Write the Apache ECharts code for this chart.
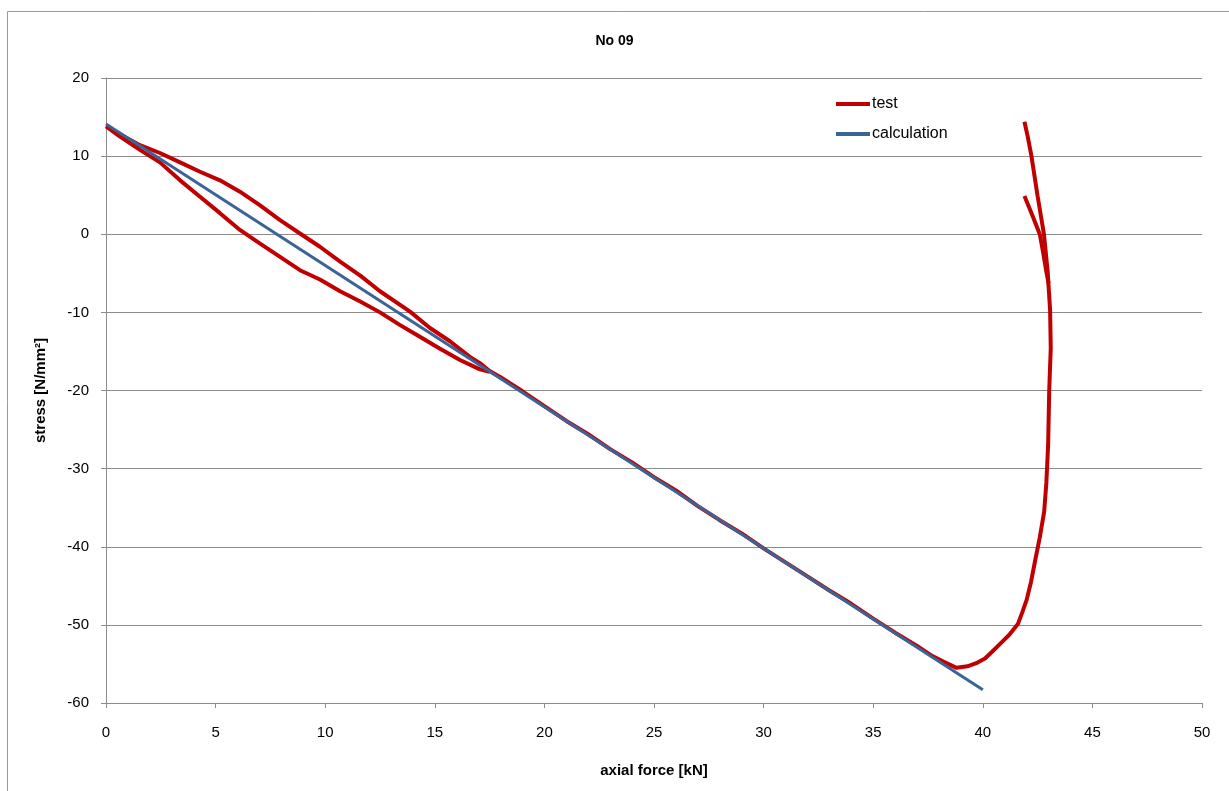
<!DOCTYPE html>
<html>
<head>
<meta charset="utf-8">
<script src="https://cdn.jsdelivr.net/npm/echarts@6/dist/echarts.min.js"></script>
<style>
  html, body { margin: 0; padding: 0; background: #fff; }
  #main { width: 1229px; height: 791px; }
</style>
</head>
<body>
<div id="main"></div>
<script>
// test curve, [axial force kN, stress N/mm2]
var loopUpper = [[0,13.8],[0.64,12.8],[1.55,11.4],[2.46,10.4],[3.38,9.2],[4.29,8.0],[5.2,6.9],[6.11,5.45],[7.03,3.7],[7.94,1.8],[8.85,0.1],[9.76,-1.6],[10.68,-3.5],[11.6,-5.3],[12.5,-7.3],[13.87,-9.9],[14.78,-12.0],[15.69,-13.7],[16.6,-15.7],[17.06,-16.5],[17.5,-17.5]];
var loopLower = [[0,13.8],[0.64,12.5],[1.55,10.8],[2.46,9.2],[3.38,6.9],[4.29,4.8],[5.2,2.7],[6.11,0.55],[7.03,-1.2],[7.94,-2.9],[8.85,-4.6],[9.76,-5.8],[10.68,-7.3],[11.6,-8.6],[12.5,-10.0],[13.4,-11.6],[14.3,-13.1],[15.2,-14.6],[16.15,-16.1],[17.06,-17.3],[17.5,-17.6]];
var mainLine = [[18,-18.3],[19,-20.1],[20,-22.0],[21,-23.9],[22,-25.6],[23,-27.5],[24,-29.2],[25,-31.1],[26,-32.8],[27,-34.8],[28,-36.6],[29,-38.3],[30,-40.2],[31,-42.0],[32,-43.8],[33,-45.6],[34,-47.3],[35,-49.2],[36,-51.0],[37,-52.7],[37.7,-54.0],[38.2,-54.7],[38.8,-55.5]];
var curl = [[39.3,-55.3],[39.7,-54.9],[40.1,-54.3],[40.4,-53.5],[40.8,-52.4],[41.2,-51.3],[41.6,-49.9],[41.8,-48.4],[42.0,-46.8],[42.2,-44.5],[42.4,-41.6],[42.6,-38.8],[42.8,-35.5],[42.9,-31.8],[42.98,-27],[43.03,-20],[43.1,-14.6],[43.07,-9.7],[42.96,-4.8]];
var rightOuter = [[42.79,0],[42.5,4.9],[42.22,10],[42.05,12.5],[41.9,14.4]];
var rightInner = [[43.0,-6.3],[42.9,-4.8],[42.75,-2.3],[42.6,0],[42.25,2.5],[41.9,4.9]];
// calculation line
var calcLine = [[0,14.1],[40,-58.3]];

var xTicks = { min: 0, max: 50, interval: 5 };
var yTicks = { min: -60, max: 20, interval: 10 };

// one continuous path for the test curve
var testPath = []
  .concat(rightOuter.slice().reverse())
  .concat(curl.slice().reverse())
  .concat(mainLine.slice().reverse())
  .concat(loopUpper.slice().reverse())
  .concat(loopLower);

var font = 'Liberation Sans';
var chart = echarts.init(document.getElementById('main'));
chart.setOption({
  animation: false,
  textStyle: { fontFamily: font },
  title: {
    text: 'No 09', left: 'center', top: 29,
    textStyle: { fontSize: 14, fontWeight: 'bold', color: '#000', fontFamily: font }
  },
  graphic: [{
    type: 'rect', silent: true,
    shape: { x: 7.5, y: 11.5, width: 1300, height: 900 },
    style: { fill: 'none', stroke: '#9a9a9a', lineWidth: 1 }
  }],
  legend: {
    orient: 'vertical', left: 831, top: 91,
    icon: 'rect', itemWidth: 34, itemHeight: 4, itemGap: 14,
    data: ['test', 'calculation'],
    textStyle: { fontSize: 16, color: '#000', fontFamily: font, padding: [0, 0, 0, -3] }
  },
  grid: { left: 106, right: 27, top: 78, bottom: 88 },
  xAxis: {
    type: 'value', min: xTicks.min, max: xTicks.max, interval: xTicks.interval,
    name: 'axial force [kN]', nameLocation: 'middle', nameGap: 60,
    nameTextStyle: { fontSize: 15, fontWeight: 'bold', color: '#000' },
    axisLine: { onZero: false, lineStyle: { color: '#8c8c8c', width: 1 } },
    axisTick: { show: true, length: 5, lineStyle: { color: '#8c8c8c' } },
    axisLabel: { fontSize: 15, color: '#000', margin: 22 },
    splitLine: { show: false }
  },
  yAxis: {
    type: 'value', min: yTicks.min, max: yTicks.max, interval: yTicks.interval,
    name: 'stress [N/mm²]', nameLocation: 'middle', nameGap: 58,
    nameTextStyle: { fontSize: 15, fontWeight: 'bold', color: '#000' },
    axisLine: { show: true, lineStyle: { color: '#8c8c8c', width: 1 } },
    axisTick: { show: true, length: 5, lineStyle: { color: '#8c8c8c' } },
    axisLabel: { fontSize: 15, color: '#000', margin: 17 },
    splitLine: { show: true, lineStyle: { color: '#8c8c8c', width: 1 } }
  },
  series: [
    {
      name: 'test', type: 'line', data: testPath, symbol: 'none',
      lineStyle: { color: '#C00000', width: 4 }, itemStyle: { color: '#C00000' }, z: 2
    },
    {
      name: 'test', type: 'line', data: rightInner, symbol: 'none',
      lineStyle: { color: '#C00000', width: 4 }, itemStyle: { color: '#C00000' }, z: 2
    },
    {
      name: 'calculation', type: 'line', data: calcLine, symbol: 'none',
      lineStyle: { color: '#3A6497', width: 3 }, itemStyle: { color: '#3A6497' }, z: 3
    }
  ]
});
</script>
</body>
</html>
